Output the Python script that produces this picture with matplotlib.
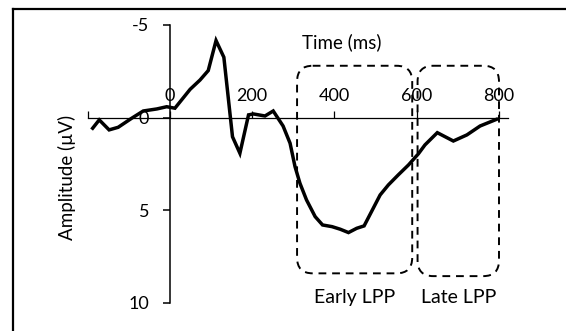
import matplotlib.pyplot as plt
from matplotlib.patches import FancyBboxPatch
from matplotlib.lines import Line2D

plt.rcParams['font.family'] = ['Lato', 'DejaVu Sans']
plt.rcParams['axes.unicode_minus'] = False

# grand-average waveform (negative up)
time_ms = [-188, -172, -148, -126, -93, -65, -32, -8, 12, 49, 73, 93, 112, 131,
           152, 170, 191, 203, 231, 251, 275, 292, 304, 316, 332, 353, 371, 394,
           414, 434, 454, 472, 490, 511, 531, 555, 580, 604, 620, 650, 689, 722,
           754, 794]
amplitude_uv = [0.57, 0.12, 0.66, 0.52, 0.03, -0.36, -0.47, -0.59, -0.51, -1.53,
                -2.03, -2.54, -4.16, -3.26, 1.03, 1.92, -0.15, -0.2, -0.09, -0.36,
                0.45, 1.38, 2.64, 3.54, 4.44, 5.34, 5.79, 5.88, 6.02, 6.2, 5.97,
                5.84, 5.07, 4.17, 3.63, 3.09, 2.55, 1.95, 1.47, 0.81, 1.26, 0.93,
                0.45, 0.09]

x_ticks = [-200, 0, 200, 400, 600, 800]
x_tick_labels = ['', '0', '200', '400', '600', '800']
y_ticks = [-5, 0, 5, 10]

# LPP analysis windows
window_names = ['Early LPP', 'Late LPP']
window_start = [309, 602]
window_end = [589, 800]
window_bottom = [8.4, 8.55]
box_top = -2.8

fig = plt.figure(figsize=(5.66, 3.31), dpi=100)
ax = fig.add_axes([0.155, 0.0846, 0.7426, 0.8399])

ax.plot(time_ms, amplitude_uv, color='black', lw=2.5, zorder=5,
        solid_joinstyle='miter')

ax.set_xlim(-200, 822)
ax.set_ylim(10, -5)

for side in ['right', 'bottom']:
    ax.spines[side].set_visible(False)
ax.spines['left'].set_position(('data', 0))
ax.spines['top'].set_position(('data', 0))
ax.spines['left'].set_linewidth(1.1)
ax.spines['top'].set_linewidth(0.9)

ax.xaxis.set_ticks_position('top')
ax.set_xticks(x_ticks)
ax.set_xticklabels(x_tick_labels)
ax.set_yticks(y_ticks)
ax.tick_params(axis='x', direction='out', length=5, width=0.9, pad=5, labelsize=13)
ax.tick_params(axis='y', direction='out', length=5, width=1.1, pad=10, labelsize=13)

ax.text(418, -4.08, 'Time (ms)', ha='center', va='center', fontsize=13.5)
fig.text(67 / 566, 1 - 177 / 331, 'Amplitude (µV)', rotation=90,
         ha='center', va='center', fontsize=13.5)

# rounded dashed boxes around the windows
rx = 38
ry = 0.85
for name, x0, x1, y1 in zip(window_names, window_start, window_end, window_bottom):
    box = FancyBboxPatch((x0, box_top), x1 - x0, y1 - box_top,
                         boxstyle=f'round,pad=0,rounding_size={rx}',
                         mutation_aspect=ry / rx,
                         fill=False, ec='black', lw=1.4, ls=(0, (4, 3)), zorder=4)
    ax.add_patch(box)
    ax.text((x0 + x1) / 2, 9.7, name, ha='center', va='center', fontsize=14)

# frame, only the top and left edges fall inside the image
fig.add_artist(Line2D([12.7 / 566, 1], [1 - 8.5 / 331] * 2,
                      transform=fig.transFigure, color='black', lw=1.6))
fig.add_artist(Line2D([12.7 / 566] * 2, [0, 1 - 8.5 / 331],
                      transform=fig.transFigure, color='black', lw=1.6))

fig.savefig('out.png', dpi=100)
